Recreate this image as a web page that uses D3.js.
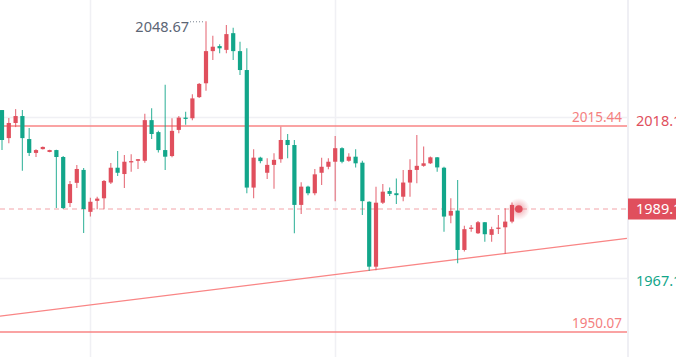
<!DOCTYPE html>
<html><head><meta charset="utf-8">
<script src="https://cdn.jsdelivr.net/npm/d3@7"></script>
<style>html,body{margin:0;padding:0;background:#fff;overflow:hidden}svg{display:block}</style>
</head><body>
<svg id="chart" width="676" height="357"></svg>
<script>
// ---- data ----
const opens  = [2020.5,2011.6,2016.4,2018.6,2011.3,2006.9,2008.1,2007.2,2007.8,2005.6,1991.0,1997.4,2001.5,1988.2,1991.7,1992.5,1997.5,2002.2,2000.2,2003.9,2004.4,2004.4,2017.3,2013.5,2007.8,2005.9,2014.2,2018.1,2017.9,2024.6,2029.0,2039.2,2040.8,2039.6,2044.9,2039.2,2033.2,1995.9,2005.4,2000.6,2003.1,2004.9,2011.0,2009.4,1990.4,1996.2,1994.1,2000.6,2002.5,2004.1,2008.4,2004.4,2005.7,2003.8,1991.4,1970.8,1991.1,1994.8,1994.1,1993.0,1997.5,2001.5,2002.8,2003.6,2005.5,2002.2,1987.0,1988.6,1976.1,1982.8,1981.4,1984.9,1980.9,1982.8,1983.3,1985.1];
const highs  = [2020.5,2018.0,2020.8,2020.5,2014.8,2008.1,2008.9,2007.9,2007.9,2005.9,1998.0,2003.1,2002.1,1992.7,1993.0,1998.3,2003.7,2007.5,2006.2,2006.5,2005.0,2019.3,2021.1,2013.9,2028.5,2017.9,2018.6,2020.0,2025.5,2029.1,2048.67,2044.1,2041.4,2047.5,2046.6,2042.2,2040.1,2008.1,2005.7,2005.2,2006.8,2015.2,2012.9,2011.0,1997.6,1996.5,2001.8,2005.4,2005.2,2012.3,2008.7,2006.8,2008.1,2004.4,1991.6,1996.2,1997.0,1995.9,1998.8,2001.5,2004.9,2012.6,2008.9,2005.8,2005.6,2002.5,1992.5,1998.3,1983.8,1984.0,1985.3,1985.0,1983.5,1987.2,1989.3,1991.2];
const lows   = [2007.8,2010.0,2015.1,2001.2,2005.9,2005.6,2008.0,2007.1,1989.4,1989.1,1989.7,1995.8,1981.5,1986.7,1989.0,1989.0,1997.0,1999.6,1995.8,2000.9,2001.8,2003.8,2011.3,2007.0,2001.5,2005.5,2013.1,2015.8,2017.3,2024.3,2026.6,2036.4,2038.5,2038.5,2036.4,2031.6,1994.1,1992.5,2003.6,1998.6,1995.5,2003.8,2005.2,1981.4,1987.5,1993.5,1993.5,1996.7,2001.7,1991.6,2003.6,2004.1,2002.3,1987.2,1969.4,1969.7,1990.7,1993.2,1990.7,1991.6,1993.0,1997.3,2002.5,2003.4,2000.9,1981.9,1984.6,1971.9,1975.6,1981.9,1981.2,1978.7,1978.7,1981.2,1974.8,1984.6];
const closes = [2011.0,2016.4,2018.6,2011.6,2006.9,2007.8,2008.8,2007.8,2005.6,1989.4,1997.0,2001.8,1989.1,1991.4,1992.4,1998.0,2002.2,2000.6,2004.1,2004.3,2004.9,2017.3,2012.9,2007.8,2005.7,2013.9,2018.1,2017.7,2024.2,2028.8,2039.2,2040.6,2040.1,2044.6,2039.2,2033.2,1995.9,2005.4,2004.3,2003.1,2004.7,2011.0,2009.4,1990.4,1996.2,1994.1,2000.1,2002.5,2004.1,2008.4,2004.1,2005.7,2003.6,1991.6,1970.8,1991.1,1994.6,1993.9,1993.5,1997.5,2001.5,2002.8,2003.6,2005.5,2002.3,1986.7,1988.5,1976.1,1982.7,1983.2,1984.9,1981.1,1982.7,1983.2,1985.1,1990.4];
const lastPrice = 1989.10;
const maxLabel = "2048.67";
const levelLines = [2015.44, 1950.07];
const levelLabels = ["2015.44", "1950.07"];
const axisTicks = [2018.15, 1967.15];
const axisTickLabels = ["2018.15", "1967.15"];
const trendStart = [-0.3, 1955.1];
const trendEnd = [91.9, 1979.8];
const vGridIdx = [13, 49];

// ---- layout ----
const W = 676, H = 357, plotR = 627;
const RED = "#e04f5d", GREEN = "#12a68a", LINE = "#f98585";
const svg = d3.select("#chart");
const font = "'Noto Sans', 'Open Sans', sans-serif";

const x = d3.scaleLinear().domain([0, 76]).range([2, 518.8]);
const y = d3.scaleLinear().domain([1950.07, 2015.44]).range([332, 126]);

// grid
svg.append("g").selectAll("line").data(axisTicks).join("line")
  .attr("x1", 0).attr("x2", plotR).attr("y1", d => Math.round(y(d)) + 0.5).attr("y2", d => Math.round(y(d)) + 0.5)
  .attr("stroke", "#f0f0f4").attr("stroke-width", 1.5);
svg.append("g").selectAll("line").data(vGridIdx).join("line")
  .attr("x1", d => Math.round(x(d)) + 0.5).attr("x2", d => Math.round(x(d)) + 0.5).attr("y1", 0).attr("y2", H)
  .attr("stroke", "#f0f0f4").attr("stroke-width", 1.5);

// current price dashed
svg.append("line").attr("x1", 0).attr("x2", plotR)
  .attr("y1", y(lastPrice)).attr("y2", y(lastPrice))
  .attr("stroke", "#f3a3a8").attr("stroke-width", 1).attr("stroke-dasharray", "5,4");

// level lines
svg.append("g").selectAll("line").data(levelLines).join("line")
  .attr("x1", 0).attr("x2", plotR).attr("y1", d => y(d)).attr("y2", d => y(d))
  .attr("stroke", LINE).attr("stroke-width", 1.5);
svg.append("g").selectAll("text").data(levelLines).join("text")
  .attr("x", 622).attr("y", d => y(d) - 4)
  .attr("text-anchor", "end").attr("fill", "#f47f80")
  .attr("font-family", font).attr("font-size", 13.5)
  .text((d, i) => levelLabels[i]);

// trend line
svg.append("line")
  .attr("x1", x(trendStart[0])).attr("y1", y(trendStart[1]))
  .attr("x2", x(trendEnd[0])).attr("y2", y(trendEnd[1]))
  .attr("stroke", LINE).attr("stroke-width", 1.3);

// candles
const idx = d3.range(opens.length);
const g = svg.append("g");
g.selectAll("line.w").data(idx).join("line").attr("class", "w")
  .attr("x1", i => x(i)).attr("x2", i => x(i))
  .attr("y1", i => y(highs[i])).attr("y2", i => y(lows[i]))
  .attr("stroke", i => closes[i] >= opens[i] ? RED : GREEN)
  .attr("stroke-opacity", 0.75).attr("stroke-width", 1.2);
g.selectAll("rect").data(idx).join("rect")
  .attr("x", i => x(i) - 2.1).attr("width", 4.2)
  .attr("y", i => y(Math.max(opens[i], closes[i])))
  .attr("height", i => Math.max(1.3, Math.abs(y(opens[i]) - y(closes[i]))))
  .attr("fill", i => closes[i] >= opens[i] ? RED : GREEN);

// max label
const hiIdx = highs.indexOf(d3.max(highs));
svg.append("line").attr("x1", x(hiIdx) - 16).attr("x2", x(hiIdx) - 1)
  .attr("y1", y(highs[hiIdx]) + 0.5).attr("y2", y(highs[hiIdx]) + 0.5)
  .attr("stroke", "#7a8390").attr("stroke-width", 1).attr("stroke-dasharray", "1,2");
svg.append("text").attr("x", x(hiIdx) - 17).attr("y", y(highs[hiIdx]) + 11)
  .attr("text-anchor", "end").attr("fill", "#5c6675")
  .attr("font-family", font).attr("font-size", 14.5).text(maxLabel);

// pulse dot
const defs = svg.append("defs");
const rg = defs.append("radialGradient").attr("id", "glow");
rg.append("stop").attr("offset", "0%").attr("stop-color", RED).attr("stop-opacity", 0.55);
rg.append("stop").attr("offset", "60%").attr("stop-color", RED).attr("stop-opacity", 0.2);
rg.append("stop").attr("offset", "100%").attr("stop-color", RED).attr("stop-opacity", 0);
svg.append("circle").attr("cx", x(76)).attr("cy", y(lastPrice)).attr("r", 11).attr("fill", "url(#glow)");
svg.append("circle").attr("cx", x(76)).attr("cy", y(lastPrice)).attr("r", 3.8).attr("fill", RED);

// right axis
svg.append("rect").attr("x", plotR).attr("y", 0).attr("width", W - plotR).attr("height", H).attr("fill", "#fff");
svg.append("line").attr("x1", plotR + 1).attr("x2", plotR + 1).attr("y1", 0).attr("y2", H)
  .attr("stroke", "#efeff4").attr("stroke-width", 2);
const axis = d3.axisRight(y).tickValues(axisTicks).tickSize(0).tickPadding(9)
  .tickFormat((d, i) => axisTickLabels[i]);
const ag = svg.append("g").attr("transform", `translate(${plotR},3)`).call(axis);
ag.select(".domain").remove();
ag.selectAll("text").attr("font-family", font).attr("font-size", 14.5)
  .attr("fill", (d, i) => i === 0 ? RED : GREEN);
// last price tag
svg.append("rect").attr("x", plotR + 1).attr("y", y(lastPrice) - 10.5).attr("width", W - plotR).attr("height", 21).attr("fill", RED);
svg.append("text").attr("x", plotR + 9).attr("y", y(lastPrice)).attr("dy", "0.35em")
  .attr("fill", "#fff").attr("font-family", font).attr("font-size", 14.5).text(lastPrice.toFixed(2));
</script>
</body></html>
